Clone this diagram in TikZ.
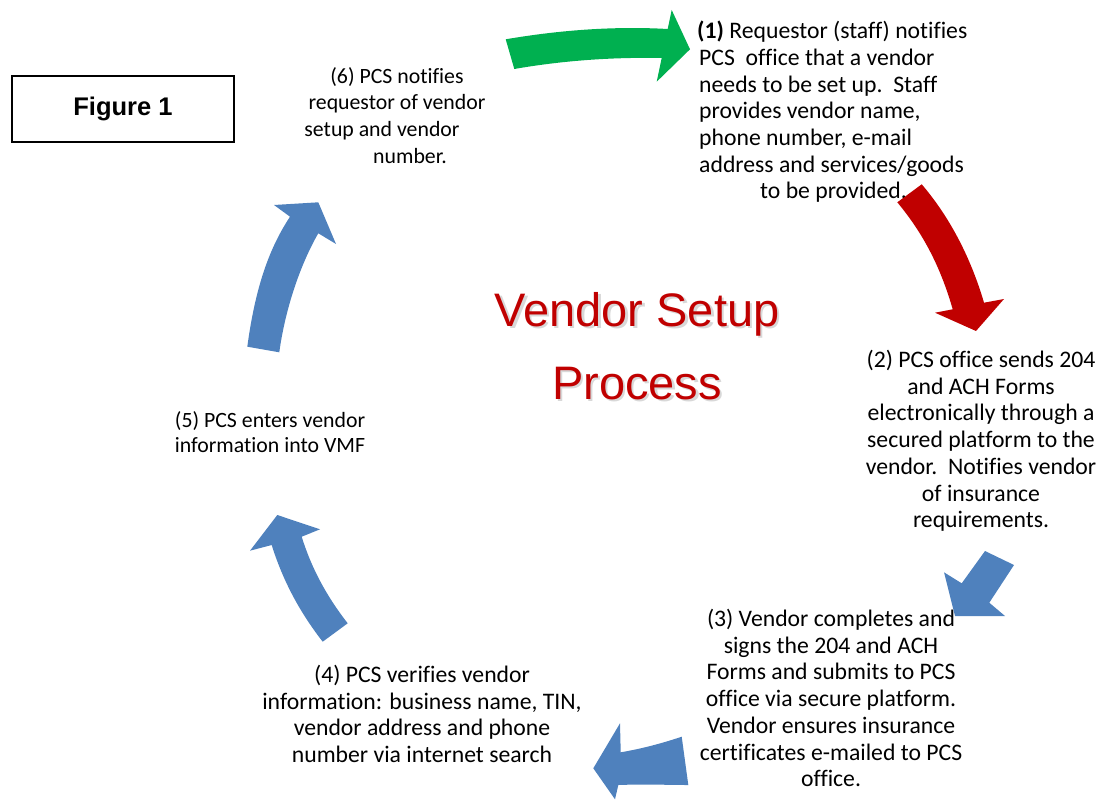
\documentclass[tikz,border=0pt]{standalone}
\usepackage{fontspec}
\setmainfont{Carlito}[Ligatures=CommonOff]
\newfontfamily\arialfont{Liberation Sans}
\definecolor{arrgreen}{HTML}{00B050}
\definecolor{arrred}{HTML}{C00000}
\definecolor{arrblue}{HTML}{4F81BD}
\definecolor{titlered}{HTML}{C00000}
\newcommand\mytxtfont{\fontsize{23.7}{26.7}\selectfont}
\newcommand\mysmallfont{\fontsize{21.8}{26.8}\selectfont}
\begin{document}
\begin{tikzpicture}[x=1pt,y=-1pt,
  txt/.style={font=\mytxtfont, inner sep=0pt, align=center, anchor=north},
  smalltxt/.style={txt, font=\mysmallfont},
  titletxt/.style={font=\arialfont\fontsize{47}{73}\selectfont, inner sep=0pt, align=center, anchor=north},
  greenarrow/.style={fill=arrgreen},
  redarrow/.style={fill=arrred},
  bluearrow/.style={fill=arrblue}]
\path[use as bounding box] (0,0) rectangle (1102,800);

% Figure 1 box
\node[draw, line width=1.3pt, minimum width=222pt, minimum height=66pt, inner sep=0pt,
  font=\arialfont\bfseries\fontsize{25.5}{28}\selectfont] (fig) at (123,109) {\raisebox{4pt}{Figure 1}};

% title with shadow
\node[titletxt, text=black!30, opacity=0.5] (titleshadow) at (639.5,294.5) {Vendor Setup\\Process};
\node[titletxt, text=titlered] (title) at (637,292) {Vendor Setup\\Process};

% step texts
\node[txt, anchor=north west, align=left] (s1) at (697,21)
  {\textbf{(1)} Requestor (staff) notifies\\
   \hspace*{2pt}PCS\ \ office that a vendor\\
   \hspace*{2pt}needs to be set up.\ \ Staff\\
   \hspace*{2pt}provides vendor name,\\
   \hspace*{2pt}phone number, e-mail\\
   \hspace*{2pt}address and services/goods\\
   \hspace*{63pt}to be provided.};
\node[txt] (s2) at (981,350)
  {(2) PCS office sends 204\\ and ACH Forms\\ electronically through a\\ secured platform to the\\ vendor.\ \ Notifies vendor\\ of insurance\\ requirements.};
\node[txt] (s3) at (831,609)
  {(3) Vendor completes and\\ signs the 204 and ACH\\ Forms and submits to PCS\\ office via secure platform.\\ Vendor ensures insurance\\ certificates e-mailed to PCS\\ office.};
\node[txt] (s4) at (422,665)
  {(4) PCS verifies vendor\\ information: business name, TIN,\\ vendor address and phone\\ number via internet search};
\node[smalltxt, font=\fontsize{21.8}{25.5}\selectfont] (s5) at (270,411)
  {(5) PCS enters vendor\\ information into VMF};
\node[smalltxt] (s6) at (397,67)
  {(6) PCS notifies\\ requestor of vendor\\ setup and vendor\rule{30pt}{0pt}\\ \hspace*{26pt}number.};

% arrows
\fill[greenarrow] (505.7,39.3) .. controls (560,30) and (615,26) .. (667.7,29)
  -- (671.7,10) -- (690,49.3) -- (656.7,81.7) -- (661.7,58)
  .. controls (610,57) and (560,61) .. (514.3,69) -- cycle;
\fill[redarrow] (897.3,202.3) -- (921.7,184.3) .. controls (948,215) and (970,255) .. (984,302.7)
  -- (1004,299) -- (976,331) -- (935,312.7) -- (952.7,309.3)
  .. controls (940,265) and (922,232) .. (897.3,202.3) -- cycle;
\fill[bluearrow] (1014,565) -- (985,551) -- (961.7,583.3) -- (944,572.3) -- (955,616)
  -- (1005,616) -- (989.3,602.7) -- cycle;
\fill[bluearrow] (681.7,736.7) .. controls (660,744) and (640,749) .. (620.7,752.3)
  -- (620,723.3) -- (593.3,768.3) -- (615,799.3) -- (618.3,785)
  .. controls (645,784) and (668,785) .. (688.3,785) -- cycle;
\fill[bluearrow] (322.7,641.7) .. controls (298,610) and (282,578) .. (271.7,545)
  -- (250,550.7) -- (277.3,515) -- (320,529.3) -- (301.7,536.7)
  .. controls (312,570) and (328,598) .. (347.7,623.3) -- cycle;
\fill[bluearrow] (247.3,346.7) .. controls (255,290) and (268,250) .. (290,216.7)
  -- (274,205) -- (318.3,202.3) -- (336,244) -- (318.3,233.3)
  .. controls (300,265) and (285,310) .. (279.3,352.3) -- cycle;
\end{tikzpicture}
\end{document}
